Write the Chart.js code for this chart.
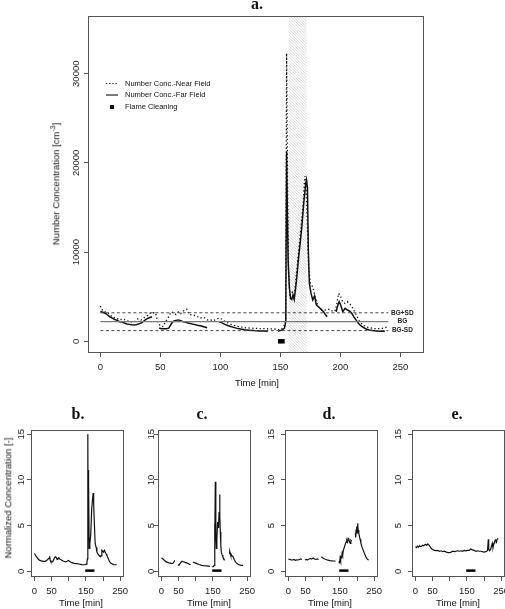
<!DOCTYPE html>
<html>
<head>
<meta charset="utf-8">
<script src="https://cdn.jsdelivr.net/npm/chart.js@4.4.1/dist/chart.umd.min.js"></script>
<style>
  html, body { margin: 0; padding: 0; background: #fff; }
  #fig { position: relative; width: 505px; height: 609px; overflow: hidden; font-family: "Liberation Sans", Arial, sans-serif; color: #111; }
  #fig canvas { position: absolute; left: 0; top: 0; }
  .txt { position: absolute; white-space: nowrap; transform: translate(-50%, -50%); font-size: 9.5px; line-height: 1; }
  .ttl { font: bold 16px "Liberation Serif", "Times New Roman", serif; color: #111; }
  .rot { transform: translate(-50%, -50%) rotate(-90deg); }
  sup { font-size: 7px; vertical-align: 4px; line-height: 0; }
</style>
</head>
<body>
<div id="fig">
  <canvas id="ca" width="505" height="609"></canvas>
  <canvas id="cb" width="505" height="609"></canvas>
  <canvas id="cc" width="505" height="609"></canvas>
  <canvas id="cd" width="505" height="609"></canvas>
  <canvas id="ce" width="505" height="609"></canvas>

  <div class="txt ttl" style="left:257px;top:4px">a.</div>
  <div class="txt ttl" style="left:78px;top:414px">b.</div>
  <div class="txt ttl" style="left:202px;top:414px">c.</div>
  <div class="txt ttl" style="left:329px;top:414px">d.</div>
  <div class="txt ttl" style="left:457px;top:414px">e.</div>

  <div class="txt rot" style="left:56px;top:184px">Number Concentration [cm<sup>-3</sup>]</div>
  <div class="txt" style="left:257px;top:383px">Time [min]</div>

  <div class="txt rot" style="left:8px;top:498px">Normalized Concentration [-]</div>
  <div class="txt" style="left:81px;top:603px">Time [min]</div>
  <div class="txt" style="left:209px;top:603px">Time [min]</div>
  <div class="txt" style="left:330px;top:603px">Time [min]</div>
  <div class="txt" style="left:458px;top:603px">Time [min]</div>
</div>
<script>
// ---- panel a: number concentration [cm-3] vs time [min]
const nearTime = [
  0, 2, 4, 7, 10, 13, 16, 19, 22, 25,
  28, 31, 34, 37, 40, 42, 44, 46, 48, 50,
  52, 54, 57, 59, 61, 63, 65, 67, 70, 72,
  74, 77, 80, 83, 86, 89, 92, 94, 96, 99,
  101, 103, 106, 109, 112, 115, 118, 121, 125, 129,
  133, 137, 141, 145, 148, 151, 153, 154.5, 155.2, 156,
  156.7, 158, 160, 161.5, 163, 165, 167, 169, 170.5, 171.5,
  172.5, 173.5, 175, 177, 179, 181.5, 184, 187, 189.5, 191.5,
  194, 196, 198.6, 200.3, 202, 203.6, 205.8, 207, 208.6, 210.5,
  213.3, 216, 218.8, 221, 223, 226, 228.5, 231, 234, 236,
  238, 240.5];
const nearConc = [
  3960, 3400, 3300, 3100, 2700, 2650, 2400, 2500, 2300, 2200,
  2150, 2500, 2400, 2700, 2950, 3200, 3200, 3200, 2100, 1700,
  1650, 2100, 2760, 3300, 3200, 3000, 3300, 3100, 3500, 3600,
  3000, 2950, 2850, 2600, 2700, 2400, 2400, 2300, 2450, 2600,
  2500, 2300, 2100, 1900, 1750, 1640, 1580, 1520, 1480, 1450,
  1430, 1420, 1400, 1380, 1300, 1350, 1700, 2500, 32300, 18000,
  8000, 5200, 5500, 5000, 7000, 9800, 12500, 15500, 18530, 17000,
  13000, 8500, 6500, 6100, 5000, 3900, 3600, 3500, 3600, 3580,
  3320, 3500, 5380, 5000, 4400, 4260, 4450, 4300, 4070, 3700,
  2950, 2200, 1830, 1650, 1570, 1480, 1420, 1420, 1420, 1480,
  1570, 1530];

const farTime = [
  0, 2, 4, 6, 8, 10, 12, 14, 16, 18,
  20, 22, 24, 26, 28, 30, 32, 34, 36, 38,
  40, 42, 43, 46, 49, 51, 53, 55, 57, 58,
  59.5, 61, 63, 65, 67, 69, 71, 73, 75, 78,
  81, 84, 87, 89, 94, 99, 101, 103, 105, 108,
  111, 114, 117, 120, 124, 128, 132, 136, 139.5, 144,
  148, 150, 152, 153.5, 154.5, 155.2, 155.8, 156.5, 157.5, 158.5,
  159.5, 160.5, 161.5, 162.5, 163.5, 165, 166.5, 168, 169.5, 171,
  171.8, 172.6, 173.3, 174.2, 175.5, 177, 178.5, 180, 181.5, 183,
  184.5, 186, 187.5, 189, 193, 196.5, 198, 199, 200.3, 202,
  204, 206, 208, 209.5, 211, 213, 215, 217, 219, 221.5,
  224, 227, 230, 233, 237];
const farConc = [
  3350, 3250, 3150, 2950, 2750, 2600, 2450, 2350, 2200, 2150,
  2050, 1950, 1900, 1850, 1830, 1850, 1950, 2050, 2250, 2450,
  2600, 2700, 2750, null, 1500, 1420, 1400, 1420, 1480, 1700,
  2050, 2250, 2350, 2400, 2300, 2200, 2150, 2050, 2000, 1900,
  1800, 1720, 1600, 1520, null, 2200, 2100, 1950, 1820, 1680,
  1560, 1450, 1370, 1300, 1250, 1200, 1170, 1150, 1140, null,
  1150, 1200, 1300, 1500, 2200, 21250, 15000, 9000, 6000, 4800,
  4700, 5200, 4700, 5700, 6900, 9100, 11000, 13000, 15500, 17500,
  18080, 17200, 10200, 6500, 5400, 4630, 5100, 4070, 3900, 3700,
  3500, 3326, 3000, 2765, null, 3300, 4100, 4450, 4070, 3330,
  3700, 3510, 3350, 3140, 2800, 2400, 2020, 1750, 1560, 1380,
  1280, 1200, 1160, 1140, 1130];

const bgLevels = [3200, 2200, 1200];
const bgNames = ['BG+SD', 'BG', 'BG-SD'];
const bgSpan = [0, 240];
const flameSpan = [148, 153.6];
const hatchSpan = [156.7, 172];
const legendNames = ['Number Conc.-Near Field', 'Number Conc.-Far Field', 'Flame Cleaning'];
const xTicksA = [0, 50, 100, 150, 200, 250];
const yTicksA = [0, 10000, 20000, 30000];

// ---- panels b-e: normalized concentration [-]
const xTicksSmall = [0, 50, 100, 150, 200, 250];
const xLabelsSmall = [0, 50, 150, 250];
const yTicksSmall = [0, 5, 10, 15];
const flameSpanSmall = [148, 175];

const bTime = [
  0, 4, 8, 12, 16, 20, 26, 32, 36, 40,
  43, 44.5, 46, 48, 51, 54, 58, 61, 63, 66,
  68, 71, 73, 77, 80, 85, 90, 95, 99, 104,
  109, 116, 123, 130, 138, 144, 148, 151, 153, 154.5,
  155.6, 156.4, 157.1, 157.8, 158.5, 159.5, 161.5, 164, 167, 171,
  172.5, 174, 177, 180, 182, 185, 188, 191.6, 194, 196.5,
  199, 201, 204, 206, 209, 211, 215, 219, 224, 230.5,
  240];
const bConc = [
  1.95, 1.7, 1.5, 1.3, 1.2, 1.15, 1.1, 1.1, 1.2, 1.35,
  1.45, 1.65, 1.2, 1.03, 1.0, 1.1, 1.45, 1.6, 1.55, 1.3,
  1.4, 1.5, 1.35, 1.3, 1.2, 1.1, 1.03, 1.1, 1.2, 1.05,
  0.95, 0.88, 0.85, 0.8, 0.74, 0.72, 0.74, 0.8, 1.0, 1.4,
  15, 4, 11.1, 3.5, 9.5, 2.5, 3, 4, 6.9, 8.57,
  7.5, 5.8, 3.05, 2.6, 2.1, 1.9, 1.76, 1.6, 1.7, 2.3,
  2.2, 2.1, 2.3, 2.1, 1.9, 1.75, 1.4, 1.05, 0.85, 0.74,
  0.72];

const cTime = [
  0, 3, 6, 10, 14, 18, 22, 26, 30, 33,
  36, 39, 44, 48, 51, 54, 57, 60, 63, 66,
  70, 74, 78, 82, 85, 88, 92, 96, 100, 105,
  110, 117, 124, 132, 138, 142, 145, 147, 151, 154,
  155, 155.8, 157, 158.5, 160, 161.5, 163.7, 165, 166.7, 168,
  169.6, 170.6, 171.6, 173, 174.5, 177, 179, 182, 184, 190,
  198, 199, 200.5, 202, 203, 205, 207, 209, 212, 215.7,
  219, 222, 225.5, 230, 235, 238];
const cConc = [
  1.47, 1.4, 1.3, 1.15, 1.03, 0.98, 0.92, 0.9, 0.85, 0.88,
  1.0, 1.2, null, 0.7, 0.66, 0.85, 1.0, 1.1, 1.05, 1.03,
  0.95, 0.92, 0.85, 0.76, 0.74, null, 1.03, 0.95, 0.9, 0.82,
  0.75, 0.66, 0.62, 0.59, 0.57, 0.55, null, 0.5, 0.52, 0.66,
  5.26, 3, 9.8, 4, 2.5, 3.5, 5.4, 4.8, 5.1, 6.5,
  8.4, 6, 4.3, 3, 2.1, 1.8, 1.58, 1.35, 1.2, null,
  1.9, 2.2, 2.0, 1.75, 1.7, 1.75, 1.65, 1.58, 1.3, 1.03,
  0.9, 0.8, 0.74, 0.68, 0.66, 0.65];

const dTime = [
  0, 4, 8, 12, 16, 20, 24, 28, 32, 36,
  39, 44, 48, 52, 56, 60, 64, 68, 72, 76,
  80, 84, 88, 92, 96, 99, 102, 106, 110, 115,
  120, 126, 132, 137, 141, 146, 149, 150.5, 151.5, 153,
  155, 156.7, 158, 160, 163.5, 166, 168, 170, 172, 174,
  176, 178, 180, 182, 184, 190, 195, 196, 197, 199,
  200, 202, 203, 205, 207, 209, 211, 214, 217, 221,
  225, 228, 231, 234];
const dConc = [
  1.35, 1.3, 1.25, 1.24, 1.3, 1.2, 1.25, 1.24, 1.3, 1.35,
  1.3, null, 1.24, 1.3, 1.25, 1.35, 1.4, 1.35, 1.45, 1.35,
  1.3, 1.35, 1.3, null, 1.6, 1.5, 1.4, 1.35, 1.3, 1.22,
  1.17, 1.15, 1.13, 1.12, null, 1.06, 0.95, 1.4, 1.1, 1.6,
  1.5, 2.0, 1.8, 2.3, 2.7, 3.0, 3.2, 3.4, 3.2, 3.6,
  3.5, 3.2, 3.07, 3.4, 3.3, null, 4.16, 3.7, 4.5, 4.9,
  4.2, 5.25, 4.5, 4.2, 3.8, 3.5, 3.1, 2.7, 2.4, 2.0,
  1.65, 1.42, 1.3, 1.24];

const eTime = [
  0, 3, 6, 9, 12, 15, 18, 21, 24, 27,
  30, 33, 36, 39, 42, 45, 48, 52, 56, 60,
  65, 70, 75, 80, 85, 90, 95, 99, 104, 109,
  114, 118, 123, 128, 133, 137.5, 142, 147, 152, 156.7,
  161, 166, 171, 176, 181, 186, 191, 195, 200, 205,
  208, 210, 212.5, 213.5, 216, 219, 222, 224, 226, 229,
  231, 233.6, 236, 238, 241];
const eConc = [
  2.7, 2.6, 2.75, 2.65, 2.8, 2.7, 2.75, 2.85, 2.8, 2.9,
  2.95, 2.85, 3.0, 2.9, 2.75, 2.55, 2.45, 2.35, 2.3, 2.26,
  2.3, 2.2, 2.25, 2.15, 2.2, 2.1, 2.05, 2.04, 2.1, 2.2,
  2.15, 2.2, 2.25, 2.2, 2.25, 2.2, 2.3, 2.25, 2.3, 2.3,
  2.45, 2.35, 2.3, 2.2, 2.25, 2.2, 2.2, 2.15, 2.1, 2.15,
  2.2, 2.3, 3.5, 2.4, 2.26, 2.4, 2.8, 3.07, 2.6, 3.1,
  3.3, 3.43, 3.2, 3.5, 3.6];

const W = 505, H = 609;
const FONT = '"Liberation Sans", Arial, sans-serif';
Chart.defaults.font.family = FONT;
Chart.defaults.color = '#222';

const pts = (ts, vs) => ts.map((t, i) => ({ x: t, y: vs[i] }));

const boxPlugin = {
    id: 'box',
    afterDraw(c) {
        const a = c.chartArea, g = c.ctx;
        g.save();
        g.strokeStyle = '#555';
        g.lineWidth = 1;
        g.strokeRect(Math.round(a.left) + 0.5, Math.round(a.top) + 0.5,
            Math.round(a.right - a.left) - 1, Math.round(a.bottom - a.top) - 1);
        g.restore();
    },
};

// hatched band (shaded period)
const hatchPlugin = {
    id: 'hatch',
    beforeDatasetsDraw(c) {
        const a = c.chartArea, g = c.ctx, xs = c.scales.x;
        const x0 = xs.getPixelForValue(hatchSpan[0]), x1 = xs.getPixelForValue(hatchSpan[1]);
        const w = x1 - x0;
        g.save();
        g.beginPath();
        g.rect(x0, a.top, w, a.bottom - a.top);
        g.clip();
        g.strokeStyle = '#c6c6c6';
        g.lineWidth = 0.7;
        g.beginPath();
        for (let k = a.top - w; k < a.bottom; k += 2.8) {
            g.moveTo(x0, k);
            g.lineTo(x1, k + w);
        }
        g.stroke();
        g.restore();
    },
};

const bgLabelPlugin = {
    id: 'bgLabels',
    afterDatasetsDraw(c) {
        const g = c.ctx, xs = c.scales.x, ys = c.scales.y;
        const x = xs.getPixelForValue(bgSpan[1]) + 14;
        g.save();
        g.font = 'bold 6.5px ' + FONT;
        g.fillStyle = '#222';
        g.textAlign = 'center';
        g.textBaseline = 'middle';
        bgLevels.forEach((lv, i) => g.fillText(bgNames[i], x, ys.getPixelForValue(lv)));
        g.restore();
    },
};

const legendPlugin = {
    id: 'legendA',
    afterDraw(c) {
        const g = c.ctx;
        const rows = [83.5, 95, 107];
        g.save();
        g.strokeStyle = '#111';
        g.fillStyle = '#111';
        g.lineWidth = 1.1;
        g.setLineDash([1.2, 2]);
        g.beginPath(); g.moveTo(106, rows[0]); g.lineTo(118, rows[0]); g.stroke();
        g.setLineDash([]);
        g.beginPath(); g.moveTo(106, rows[1]); g.lineTo(118, rows[1]); g.stroke();
        g.fillRect(110, rows[2] - 2, 4, 4);
        g.font = '7.5px ' + FONT;
        g.textBaseline = 'middle';
        legendNames.forEach((n, i) => g.fillText(n, 125, rows[i]));
        g.restore();
    },
};

function makeChart(id, box, xr, yr, xTicks, xLabels, yTicks, yPad, datasets, plugins) {
    const tickGrid = { drawOnChartArea: false, drawTicks: true, tickLength: 4, color: '#555', tickColor: '#555' };
    return new Chart(document.getElementById(id), {
        type: 'line',
        data: { datasets },
        plugins: [boxPlugin, ...plugins],
        options: {
            responsive: false, animation: false, events: [],
            layout: { padding: { left: 0, top: box.top, right: W - box.right, bottom: 0 } },
            plugins: { legend: { display: false }, tooltip: { enabled: false } },
            elements: { point: { radius: 0 }, line: { tension: 0, fill: false } },
            scales: {
                x: {
                    type: 'linear', min: xr[0], max: xr[1], bounds: 'data',
                    afterBuildTicks: (s) => { s.ticks = xTicks.map((v) => ({ value: v })); },
                    afterFit: (s) => { s.height = H - box.bottom; s.paddingLeft = 0; s.paddingRight = 0; },
                    grid: tickGrid, border: { display: false },
                    ticks: { autoSkip: false, maxRotation: 0, padding: 5, font: { size: 9.5 },
                        callback: (v) => (xLabels.includes(v) ? String(v) : '') },
                },
                y: {
                    type: 'linear', min: yr[0], max: yr[1], bounds: 'data',
                    afterBuildTicks: (s) => { s.ticks = yTicks.map((v) => ({ value: v })); },
                    afterFit: (s) => { s.width = box.left; s.paddingTop = 0; s.paddingBottom = 0; },
                    grid: tickGrid, border: { display: false },
                    ticks: { autoSkip: false, minRotation: 90, maxRotation: 90, crossAlign: 'center',
                        padding: yPad, font: { size: 9.5 }, callback: (v) => String(v) },
                },
            },
        },
    });
}

// panel a
makeChart('ca', { left: 88, right: 424, top: 16, bottom: 353 }, [-10.3, 269.7], [-1310, 36470],
    xTicksA, xTicksA, yTicksA, -5.2, [
        ...bgLevels.map((lv, i) => ({
            data: pts(bgSpan, [lv, lv]),
            borderColor: i === 1 ? '#7a7a7a' : '#4a4a4a',
            borderWidth: i === 1 ? 1.2 : 1,
            borderDash: i === 1 ? [] : [3, 2.5],
        })),
        { data: pts(nearTime, nearConc), borderColor: '#111', borderWidth: 1.3, borderDash: [1.3, 2.4], spanGaps: false },
        { data: pts(farTime, farConc), borderColor: '#111', borderWidth: 1.5, spanGaps: false },
        { data: pts(flameSpan, [0, 0]), borderColor: '#000', borderWidth: 4.5, borderCapStyle: 'butt' },
    ], [hatchPlugin, bgLabelPlugin, legendPlugin]);

// panels b-e
const small = [
    ['cb', 31, bTime, bConc, 0],
    ['cc', 158, cTime, cConc, -2.7],
    ['cd', 285, dTime, dConc, 4],
    ['ce', 412, eTime, eConc, 4],
];
small.forEach(([id, left, ts, vs, yPad]) => {
    makeChart(id, { left, right: left + 93, top: 430, bottom: 577 }, [-10, 261], [-0.62, 15.47],
        xTicksSmall, xLabelsSmall, yTicksSmall, yPad, [
            { data: pts(ts, vs), borderColor: '#111', borderWidth: 1.2, spanGaps: false },
            { data: pts(flameSpanSmall, [0.08, 0.08]), borderColor: '#000', borderWidth: 2.5, borderCapStyle: 'butt' },
        ], []);
});
</script>
</body>
</html>
